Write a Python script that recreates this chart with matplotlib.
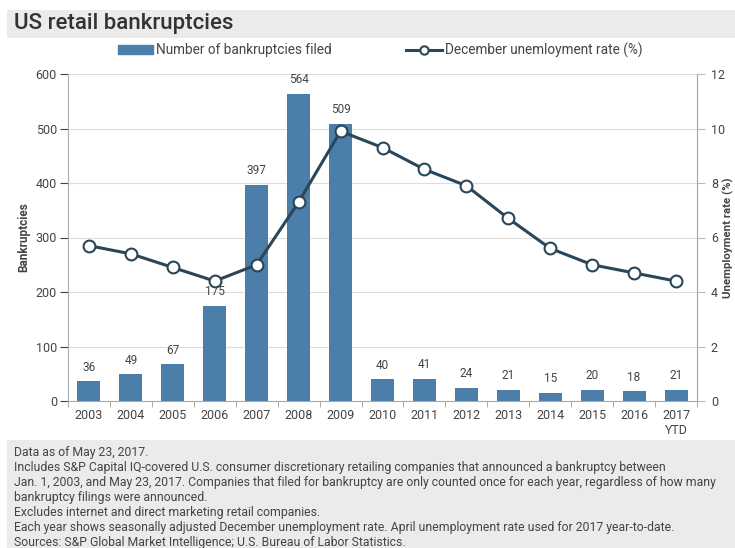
import matplotlib.pyplot as plt
import numpy as np
from matplotlib.patches import Rectangle
from matplotlib.lines import Line2D

years = ["2003", "2004", "2005", "2006", "2007", "2008", "2009", "2010",
         "2011", "2012", "2013", "2014", "2015", "2016", "2017\nYTD"]
bankruptcies = [36, 49, 67, 175, 397, 564, 509, 40, 41, 24, 21, 15, 20, 18, 21]
unemployment = [5.7, 5.4, 4.9, 4.4, 5.0, 7.3, 9.9, 9.3, 8.5, 7.9, 6.7, 5.6, 5.0, 4.7, 4.4]

notes = [
    "Data as of May 23, 2017.",
    "Includes S&P Capital IQ-covered U.S. consumer discretionary retailing companies that announced a bankruptcy between",
    "Jan. 1, 2003, and May 23, 2017. Companies that filed for bankruptcy are only counted once for each year, regardless of how many",
    "bankruptcy filings were announced.",
    "Excludes internet and direct marketing retail companies.",
    "Each year shows seasonally adjusted December unemployment rate. April unemployment rate used for 2017 year-to-date.",
    "Sources: S&P Global Market Intelligence; U.S. Bureau of Labor Statistics.",
]

bar_color = "#4b7ea8"
line_color = "#2a4659"
grey_bg = "#ebebeb"
text_color = "#444444"

plt.rcParams['font.family'] = ['Roboto', 'DejaVu Sans']

fig = plt.figure(figsize=(7.35, 5.48), dpi=100)
W, H = 735, 548

# background bands
fig.patches.append(Rectangle((7 / W, (H - 38) / H), 1, 28 / H, transform=fig.transFigure,
                             facecolor=grey_bg, edgecolor='none', zorder=0))
fig.patches.append(Rectangle((7 / W, 0), 1, (H - 440) / H, transform=fig.transFigure,
                             facecolor=grey_bg, edgecolor='none', zorder=0))

fig.text(14 / W, 1 - 24 / H, "US retail bankruptcies", fontsize=16, fontweight='medium',
         color="#333333", va='center', ha='left')

ax = fig.add_axes([68 / W, (H - 401) / H, (697 - 68) / W, (401 - 74) / H])
x = np.arange(len(years))
bars = ax.bar(x, bankruptcies, width=0.55, color=bar_color, zorder=2)
for xi, v in zip(x, bankruptcies):
    ax.text(xi, v + 14, str(v), ha='center', va='bottom', fontsize=8.5, color=text_color)

ax.set_ylim(0, 600)
ax.set_xlim(-0.5, len(years) - 0.5)
ax.set_yticks(range(0, 601, 100))
ax.set_xticks(x)
ax.set_xticklabels(years)
ax.set_xticks(np.arange(-0.5, len(years), 1), minor=True)
ax.tick_params(axis='x', which='major', length=0, pad=6)
ax.tick_params(axis='x', which='minor', length=4, color="#999999")
ax.tick_params(axis='y', length=6, color="#bbbbbb", pad=2)
ax.tick_params(labelsize=9, colors=text_color)
ax.set_ylabel("Bankruptcies", fontsize=8.5, fontweight='bold', color=text_color, labelpad=4)
ax.grid(axis='y', color="#e3dbdb", linewidth=0.8, zorder=0)
for s in ["top"]:
    ax.spines[s].set_visible(False)
for s in ["left", "right", "bottom"]:
    ax.spines[s].set_color("#aaaaaa")
    ax.spines[s].set_linewidth(0.8)

ax2 = ax.twinx()
ax2.plot(x, unemployment, color=line_color, linewidth=2.2, marker='o', markersize=8.5,
         markerfacecolor='white', markeredgecolor=line_color, markeredgewidth=1.5, zorder=3)
ax2.set_ylim(0, 12)
ax2.set_yticks(range(0, 13, 2))
ax2.tick_params(axis='y', length=6, color="#bbbbbb", labelsize=9, colors=text_color, pad=4)
ax2.set_ylabel("Unemployment rate (%)", fontsize=8.2, fontweight='bold', color=text_color)
ax2.yaxis.set_label_coords((723 - 68) / (697 - 68), 0.5)
ax2.spines["top"].set_visible(False)
ax2.spines["right"].set_color("#aaaaaa")
ax2.spines["left"].set_visible(False)
ax2.spines["bottom"].set_visible(False)

handles = [Rectangle((0, 0), 1, 1, color=bar_color),
           Line2D([], [], color=line_color, linewidth=2.2, marker='o', markersize=6,
                  markerfacecolor='white', markeredgecolor=line_color, markeredgewidth=1.5)]
fig.legend(handles, ["Number of bankruptcies filed", "December unemloyment rate (%)"],
           loc='center', bbox_to_anchor=(380 / W, 1 - 50 / H), ncol=2, frameon=False,
           fontsize=9.8, handlelength=2.6, handletextpad=0.2, columnspacing=5.5,
           labelcolor=text_color)

fig.text(14 / W, 1 - 446 / H, "\n".join(notes), fontsize=8.8, color=text_color,
         va='top', ha='left', linespacing=1.2)

fig.savefig("out.png", dpi=100)
